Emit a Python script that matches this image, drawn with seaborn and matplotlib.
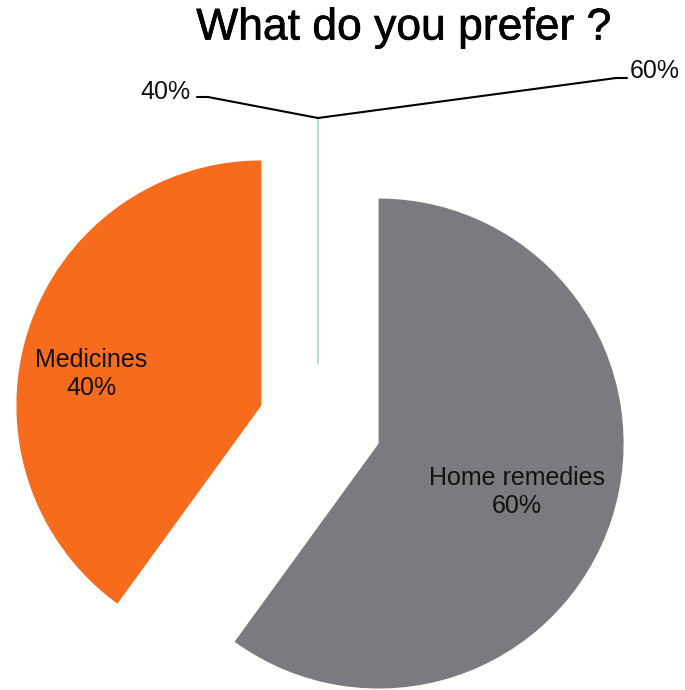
import numpy as np
import matplotlib
matplotlib.use("Agg")
import matplotlib.pyplot as plt
import matplotlib.patheffects as pe
import seaborn as sns

categories = ["Home remedies", "Medicines"]
values = [60, 40]
colors = ["#7a7b7f", "#f76b1c"]
title = "What do you prefer ?"

sns.set_theme(style="white")
plt.rcParams['font.family'] = ['Liberation Sans', 'DejaVu Sans']

W, H = 685, 690
fig = plt.figure(figsize=(W / 100, H / 100), dpi=100)
ax = fig.add_axes([0, 0, 1, 1])

center = (320, 265.5)
radius = 245
gap = 61.6  # matplotlib explode offsets are in data units, not radius fractions
explode = [gap, gap]

wedges, _ = ax.pie(values, colors=colors, startangle=90, counterclock=False,
                   explode=explode, center=center, radius=radius,
                   wedgeprops=dict(linewidth=0))
ax.set_xlim(0, W)
ax.set_ylim(0, H)
ax.set_aspect('auto')
ax.axis('off')

# in-slice labels
total = sum(values)
label_pos = [(517, 690 - 492), (91, 690 - 374)]
for cat, v, (lx, ly) in zip(categories, values, label_pos):
    ax.text(lx, ly, f"{cat}\n{v / total * 100:.0f}%", ha='center', va='center',
            fontsize=18, color='#111111', linespacing=1.2)

# leader lines with outside labels
hub = (318, 690 - 118)
ax.plot([hub[0], hub[0]], [hub[1], 690 - 363], color='#9fd8c8', lw=1.2)
ax.plot([197, 208, hub[0]], [690 - 97, 690 - 97, hub[1]], color='black', lw=1.5,
        solid_joinstyle='miter')
ax.plot([hub[0], 616, 627], [hub[1], 690 - 78, 690 - 78], color='black', lw=1.5)
ax.text(191, 690 - 92, f"{values[1]}%", ha='right', va='center', fontsize=18, color='#111111')
ax.text(630, 690 - 71, f"{values[0]}%", ha='left', va='center', fontsize=18, color='#111111')

ax.text(404, 690 - 28, title, ha='center', va='center', fontsize=32, color='black',
        path_effects=[pe.withStroke(linewidth=0.5, foreground='black')])

fig.savefig("out.png", dpi=100)
